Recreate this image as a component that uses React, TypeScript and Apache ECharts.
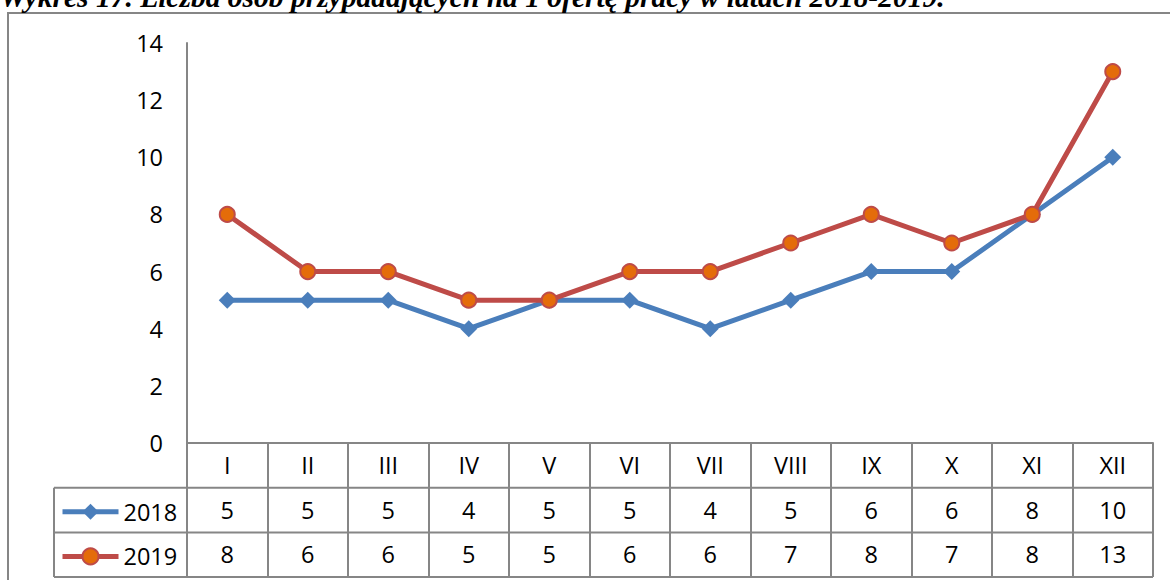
import React, { useEffect, useRef } from "react";
import * as echarts from "echarts";

const months = ["I", "II", "III", "IV", "V", "VI", "VII", "VIII", "IX", "X", "XI", "XII"];
const series2018 = [5, 5, 5, 4, 5, 5, 4, 5, 6, 6, 8, 10];
const series2019 = [8, 6, 6, 5, 5, 6, 6, 7, 8, 7, 8, 13];
const seriesNames = ["2018", "2019"];
const titleText = "Wykres 17. Liczba osób przypadających na 1 ofertę pracy w latach 2018-2019.";

const FONT = "'Open Sans', 'Noto Sans', sans-serif";
const GRAY = "#868686";
const BLUE = "#4A7EBB";
const RED = "#BE4B48";
const ORANGE = "#E46C0A";

const GL = 187, GT = 43, GW = 966, GH = 400;
const ROW = 44.7;

export default function App() {
  const ref = useRef<HTMLDivElement>(null);
  useEffect(() => {
    if (!ref.current) return;
    const chart = echarts.init(ref.current, undefined, { renderer: "svg" });
    const gb = GT + GH;
    const right = GL + GW;
    const labelStyle = { fontFamily: FONT, fontSize: 23.5, color: "#000", lineHeight: 24 };
    const legendCommon = {
      left: 60,
      padding: 0,
      itemWidth: 56,
      itemHeight: 20,
      itemGap: 0,
      lineStyle: { width: 5 },
      textStyle: { fontFamily: FONT, fontSize: 23.5, color: "#000", lineHeight: 24, padding: [0, 0, 0, 0] },
    };
    chart.setOption({
      animation: false,
      backgroundColor: "#fff",
      grid: { left: GL, top: GT, width: GW, height: GH, containLabel: false },
      xAxis: [
        {
          type: "category",
          data: months,
          position: "bottom",
          boundaryGap: true,
          axisLine: { show: true, lineStyle: { color: GRAY, width: 2 } },
          axisTick: { show: true, alignWithLabel: false, interval: 0, length: ROW * 3, lineStyle: { color: GRAY, width: 2 } },
          axisLabel: { ...labelStyle, margin: 10, interval: 0 },
          splitLine: { show: false },
        },
        {
          type: "category",
          data: series2018.map(String),
          position: "bottom",
          offset: ROW,
          gridIndex: 0,
          axisLine: { show: false },
          axisTick: { show: false },
          axisLabel: { ...labelStyle, margin: 10, interval: 0 },
        },
        {
          type: "category",
          data: series2019.map(String),
          position: "bottom",
          offset: ROW * 2,
          gridIndex: 0,
          axisLine: { show: false },
          axisTick: { show: false },
          axisLabel: { ...labelStyle, margin: 10, interval: 0 },
        },
      ],
      yAxis: {
        type: "value",
        min: 0,
        max: 14,
        interval: 2,
        axisLine: { show: true, lineStyle: { color: GRAY, width: 2 } },
        axisTick: { show: false },
        splitLine: { show: false },
        axisLabel: { ...labelStyle, margin: 24 },
      },
      legend: [
        { ...legendCommon, data: [seriesNames[0]], top: gb + ROW + 12 },
        { ...legendCommon, data: [seriesNames[1]], top: gb + ROW * 2 + 12 },
      ],
      graphic: [
        {
          type: "rect",
          shape: { x: 8, y: 13, width: 1250, height: 700 },
          style: { fill: "none", stroke: GRAY, lineWidth: 2 },
          silent: true,
        },
        {
          type: "text",
          x: 0,
          y: -3,
          style: {
            text: titleText,
            fontFamily: "'Liberation Serif', 'Times New Roman', serif",
            fontStyle: "italic",
            fontWeight: "bold",
            fontSize: 29.5,
            fill: "#000",
            verticalAlign: "middle",
          },
        },
        ...[1, 2, 3].map((k) => ({
          type: "line",
          shape: { x1: 54, y1: gb + ROW * k, x2: right, y2: gb + ROW * k },
          style: { stroke: GRAY, lineWidth: 2 },
          silent: true,
        })),
        {
          type: "line",
          shape: { x1: 54, y1: gb + ROW, x2: 54, y2: gb + ROW * 3 },
          style: { stroke: GRAY, lineWidth: 2 },
          silent: true,
        },
      ],
      series: [
        {
          name: seriesNames[0],
          type: "line",
          data: series2018,
          xAxisIndex: 0,
          symbol: "diamond",
          symbolSize: 17,
          lineStyle: { color: BLUE, width: 5 },
          itemStyle: { color: BLUE },
        },
        {
          name: seriesNames[1],
          type: "line",
          data: series2019,
          xAxisIndex: 0,
          symbol: "circle",
          symbolSize: 15,
          lineStyle: { color: RED, width: 5 },
          itemStyle: { color: ORANGE, borderColor: RED, borderWidth: 2 },
        },
      ],
    });
    return () => chart.dispose();
  }, []);
  return (
    <div
      ref={ref}
      style={{ position: "fixed", left: 0, top: 0, width: 1170, height: 580, background: "#fff" }}
    />
  );
}
